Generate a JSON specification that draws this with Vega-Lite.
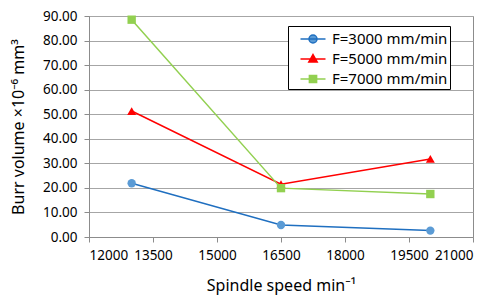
{
  "$schema": "https://vega.github.io/schema/vega-lite/v6.json",
  "width": 384,
  "height": 221,
  "autosize": {"type": "none"},
  "padding": {"left": 89, "top": 16, "right": 19, "bottom": 59},
  "background": "white",
  "config": {
    "font": "Noto Sans",
    "view": {"stroke": "#8c8c8c", "strokeWidth": 1},
    "axis": {"labelFont": "Noto Sans", "titleFont": "Noto Sans", "labelColor": "#000", "titleColor": "#000", "labelFontSize": 13.5, "titleFontSize": 16, "titleFontWeight": "normal", "domainColor": "#8c8c8c", "tickColor": "#8c8c8c", "gridColor": "#a6a6a6", "gridOpacity": 1}
  },
  "data": {
    "values": [
      {"speed": 13000, "series": "F=3000 mm/min", "burr": 21.9},
      {"speed": 16500, "series": "F=3000 mm/min", "burr": 4.9},
      {"speed": 20000, "series": "F=3000 mm/min", "burr": 2.6},
      {"speed": 13000, "series": "F=5000 mm/min", "burr": 51.3},
      {"speed": 16500, "series": "F=5000 mm/min", "burr": 21.5},
      {"speed": 20000, "series": "F=5000 mm/min", "burr": 31.8},
      {"speed": 13000, "series": "F=7000 mm/min", "burr": 88.5},
      {"speed": 16500, "series": "F=7000 mm/min", "burr": 19.9},
      {"speed": 20000, "series": "F=7000 mm/min", "burr": 17.5}
    ]
  },
  "encoding": {
    "x": {"field": "speed", "type": "quantitative", "scale": {"domain": [12000, 21000], "nice": false},
      "axis": {"values": [12000, 13500, 15000, 16500, 18000, 19500, 21000], "grid": false, "title": "Spindle speed min⁻¹", "format": "d", "tickSize": 5, "labelPadding": 6, "titlePadding": 16}},
    "y": {"field": "burr", "type": "quantitative", "scale": {"domain": [0, 90], "nice": false},
      "axis": {"values": [0, 10, 20, 30, 40, 50, 60, 70, 80, 90], "grid": true, "format": ".2f", "title": "Burr volume ×10⁻⁶ mm³", "tickSize": 5, "labelPadding": 7, "titlePadding": 16, "domain": true}}
  },
  "layer": [
    {"transform": [{"filter": "datum.series == 'F=3000 mm/min'"}], "mark": {"type": "line", "strokeWidth": 1.5, "color": "#1f6fc0"}},
    {"transform": [{"filter": "datum.series == 'F=5000 mm/min'"}], "mark": {"type": "line", "strokeWidth": 1.5, "color": "#ff0000"}},
    {"transform": [{"filter": "datum.series == 'F=7000 mm/min'"}], "mark": {"type": "line", "strokeWidth": 1.5, "color": "#92d050"}},
    {"transform": [{"filter": "datum.series == 'F=3000 mm/min'"}], "mark": {"type": "point", "filled": true, "size": 70, "opacity": 1, "shape": "circle", "color": "#5b9bd5"}},
    {"transform": [{"filter": "datum.series == 'F=5000 mm/min'"}], "mark": {"type": "point", "filled": true, "size": 80, "opacity": 1, "shape": "triangle-up", "color": "#ff0000"}},
    {"transform": [{"filter": "datum.series == 'F=7000 mm/min'"}], "mark": {"type": "point", "filled": true, "size": 70, "opacity": 1, "shape": "square", "color": "#92d050"}},
    {"mark": {"type": "point", "filled": true, "size": 70, "opacity": 0},
      "encoding": {
        "color": {"field": "series", "type": "nominal",
        "scale": {"domain": ["F=3000 mm/min", "F=5000 mm/min", "F=7000 mm/min"], "range": ["#5b9bd5", "#ff0000", "#92d050"]},
        "legend": {"title": null, "orient": "none", "legendX": 199, "legendY": 10, "strokeColor": "#000", "fillColor": "white", "padding": 2, "symbolOffset": 12, "labelOffset": 8, "labelFontSize": 15, "labelFont": "Noto Sans", "labelColor": "#000", "rowPadding": 1, "symbolSize": 400, "symbolStrokeWidth": 1.5, "symbolOpacity": 1,
          "encode": {"symbols": {"update": {
            "shape": {"signal": "datum.value == 'F=3000 mm/min' ? 'M-1.25,0H1.25M-0.4,0A0.4,0.4 0 1,1 0.4,0A0.4,0.4 0 1,1 -0.4,0Z' : datum.value == 'F=5000 mm/min' ? 'M-1.25,0H1.25M0,-0.45L0.42,0.3L-0.42,0.3Z' : 'M-1.25,0H1.25M-0.36,-0.36H0.36V0.36H-0.36Z'"},
            "stroke": {"signal": "datum.value == 'F=3000 mm/min' ? '#1f6fc0' : datum.value == 'F=5000 mm/min' ? '#ff0000' : '#92d050'"},
            "fill": {"signal": "datum.value == 'F=3000 mm/min' ? '#5b9bd5' : datum.value == 'F=5000 mm/min' ? '#ff0000' : '#92d050'"},
            "opacity": {"value": 1},
            "fillOpacity": {"value": 1},
            "strokeOpacity": {"value": 1},
            "strokeWidth": {"value": 1.5}
          }}, "legend": {"update": {"width": {"value": 175}}}}}}}}
  ]
}
